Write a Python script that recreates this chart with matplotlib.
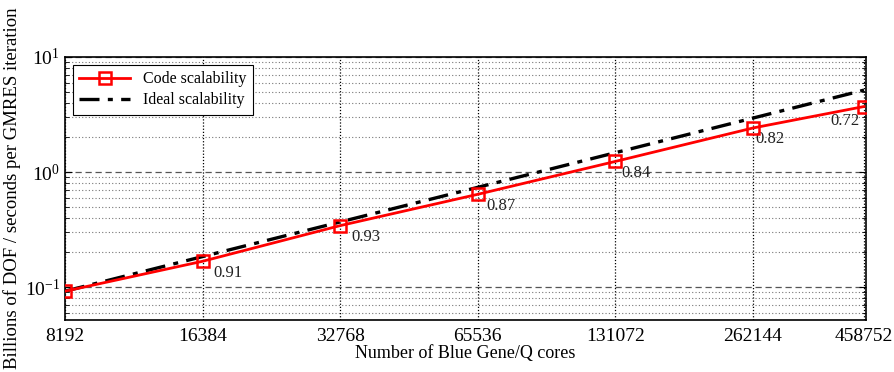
import matplotlib
matplotlib.use("Agg")
import matplotlib.pyplot as plt
from matplotlib.ticker import LogLocator, NullLocator, NullFormatter

plt.rcParams["font.family"] = ["Liberation Serif", "DejaVu Serif"]
plt.rcParams["mathtext.fontset"] = "stix"

# Blue Gene/Q strong scaling
cores = [8192, 16384, 32768, 65536, 131072, 262144, 458752]
core_labels = ["8192", "16384", "32768", "65536", "131072", "262144", "458752"]
code_rate = [0.092, 0.1675, 0.342, 0.640, 1.236, 2.414, 3.71]
ideal_rate = [0.092, 0.184, 0.368, 0.736, 1.472, 2.944, 5.152]
efficiency = ["", "0.91", "0.93", "0.87", "0.84", "0.82", "0.72"]
label_offsets = [(0, 0), (8, -14), (8, -14), (6, -14), (4, -14), (2, -14), (-24, -16)]

fig = plt.figure(figsize=(8.94, 3.72), dpi=100)
ax = fig.add_axes([0.0727, 0.1398, 0.896, 0.707])

ax.set_xscale("log", base=2)
ax.set_yscale("log")

ax.plot(cores, code_rate, color="red", lw=2.0, marker="s", ms=8,
        mfc="none", mec="red", mew=1.8, label="Code scalability", zorder=4)
ax.plot(cores, ideal_rate, color="black", lw=2.4, ls=(0, (6, 2.5, 1.5, 2.5)),
        label="Ideal scalability", zorder=3)

for x, y, txt, off in zip(cores, code_rate, efficiency, label_offsets):
    if txt:
        ax.annotate(txt, (x, y), xytext=off, textcoords="offset points",
                    fontsize=12, color="#222222", va="bottom")

ax.set_xlim(cores[0], cores[-1] * 1.01)
ax.set_ylim(0.0517, 10)
ax.set_xticks(cores)
ax.set_xticklabels(core_labels)
ax.xaxis.set_minor_locator(NullLocator())
ax.yaxis.set_major_locator(LogLocator(base=10, numticks=5))
ax.yaxis.set_minor_locator(LogLocator(base=10, subs=range(2, 10), numticks=20))
ax.yaxis.set_minor_formatter(NullFormatter())

ax.tick_params(axis="both", which="both", direction="in", labelsize=14)
ax.tick_params(axis="y", which="both", right=True)
ax.tick_params(axis="x", length=0, pad=6)
ax.tick_params(axis="y", which="major", length=5)
ax.tick_params(axis="y", which="minor", length=3)

ax.grid(True, axis="x", which="major", color="black", ls=(0, (1, 1.5)), lw=0.9)
ax.grid(True, axis="y", which="major", color="#555555", ls=(0, (5, 3)), lw=0.9)
ax.grid(True, axis="y", which="minor", color="#777777", ls=(0, (1, 2)), lw=0.8)

for s in ax.spines.values():
    s.set_linewidth(1.2)

ax.set_xlabel("Number of Blue Gene/Q cores", fontsize=13, labelpad=0)
ax.set_ylabel("Billions of DOF / seconds per GMRES iteration", fontsize=13.5)
ax.yaxis.set_label_coords(-0.055, 0.5)

leg = ax.legend(loc="upper left", fontsize=11.5, frameon=True, fancybox=False,
                edgecolor="black", framealpha=1, borderpad=0.4,
                handlelength=3.2, labelspacing=0.3)
leg.get_frame().set_linewidth(0.8)

fig.savefig("out.png", dpi=100)
